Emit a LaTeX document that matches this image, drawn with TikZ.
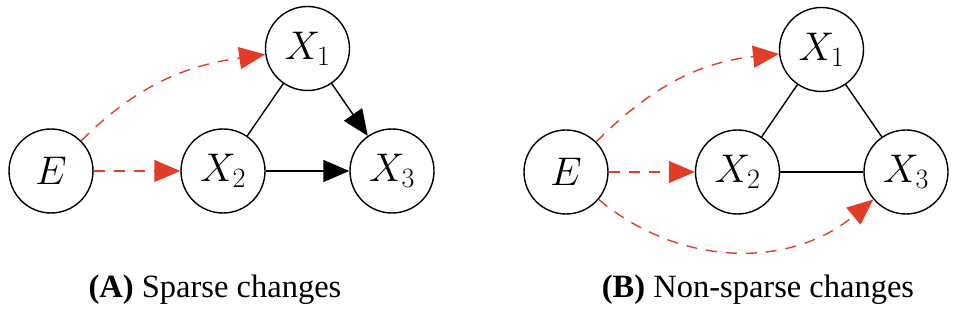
\RequirePackage{fix-cm}
\documentclass[tikz,border=0pt]{standalone}
\usepackage[no-math]{fontspec}
\newfontfamily\capfont{Liberation Serif}
\usetikzlibrary{arrows.meta}
\definecolor{cred}{RGB}{226,61,40}
\begin{document}
\begin{tikzpicture}[x=1pt,y=1pt,
  var/.style={circle,draw,line width=1.4pt,minimum size=84pt,inner sep=0pt,font=\fontsize{40}{48}\selectfont},
  blk/.style={line width=1.4pt},
  barr/.style={blk,-{Triangle[length=26pt,width=22pt]}},
  rarr/.style={cred,line width=1.4pt,dash pattern=on 11pt off 9pt,-{Triangle[length=26pt,width=22pt]}},
  captext/.style={font=\capfont\fontsize{32.5}{39}\selectfont,anchor=base}]
\useasboundingbox (0,0) rectangle (956,308);
% (A)
\node[var] (aE) at (51,137) {$E$};
\node[var] (aX2) at (223,137) {$X_2$};
\node[var] (aX3) at (392,137) {$X_3$};
\node[var] (aX1) at (307.5,259.5) {$X_1$};
\draw[rarr] (aE) -- (aX2);
\draw[rarr] (aE.45) to[out=45,in=188] (aX1.188);
\draw[blk] (aX1) -- (aX2);
\draw[barr] (aX1) -- (aX3);
\draw[barr] (aX2) -- (aX3);
\node[captext] (capA) at (215,11) {\textbf{(A)} Sparse changes};
% (B)
\node[var] (bE) at (566,136) {$E$};
\node[var] (bX2) at (737.5,136) {$X_2$};
\node[var] (bX3) at (906,136) {$X_3$};
\node[var] (bX1) at (821.5,258.5) {$X_1$};
\draw[rarr] (bE) -- (bX2);
\draw[rarr] (bE.45) to[out=45,in=186] (bX1.186);
\draw[rarr] (bE.-40) to[out=-40,in=-140] (bX3.-140);
\draw[blk] (bX1) -- (bX2);
\draw[blk] (bX1) -- (bX3);
\draw[blk] (bX2) -- (bX3);
\node[captext] (capB) at (758,11) {\textbf{(B)} Non-sparse changes};
\end{tikzpicture}
\end{document}
